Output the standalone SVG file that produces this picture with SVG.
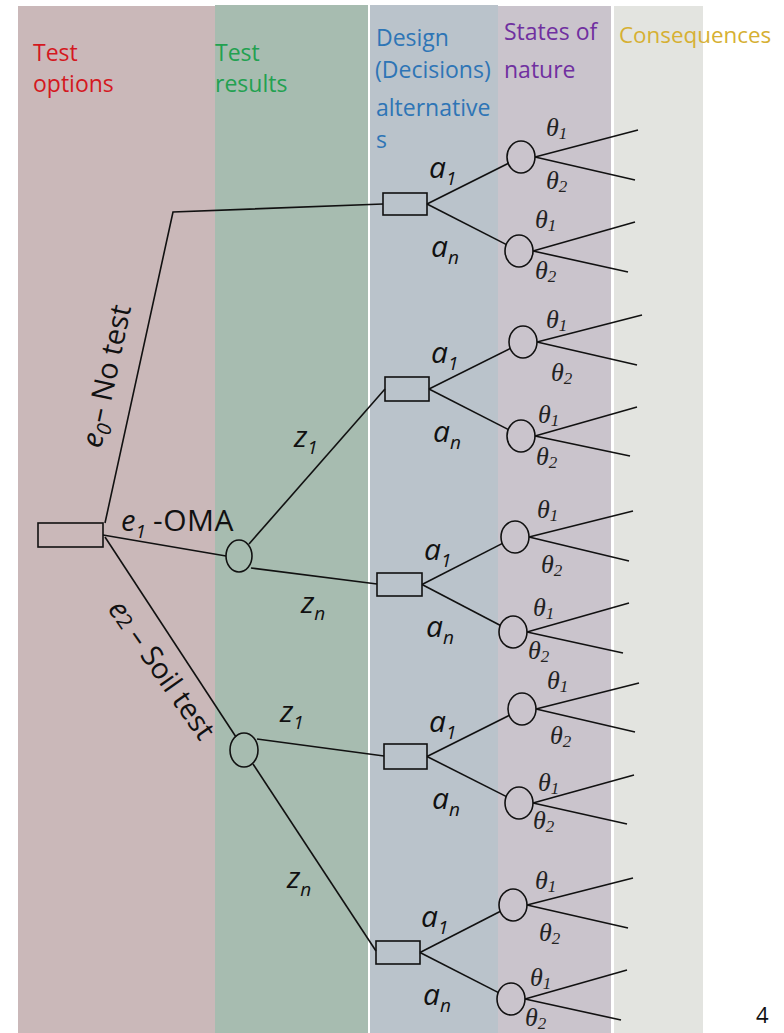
<svg xmlns="http://www.w3.org/2000/svg" width="784" height="1033" viewBox="0 0 784 1033">
<style>
.ln{stroke:#111;stroke-width:1.6;fill:none}
.nd{stroke:#111;stroke-width:1.6;fill:none}
.hd{font-family:"Open Sans","Liberation Sans",sans-serif;font-size:23px}
.lb{font-family:"Open Sans","Liberation Sans",sans-serif;font-style:italic;font-size:30px;fill:#111}
.tx{font-family:"Open Sans","Liberation Sans",sans-serif;font-size:29px;fill:#111}
.th{font-family:"Liberation Serif","DejaVu Serif",serif;font-style:italic;font-size:26px;fill:#222}
.sb{font-size:17px}
.sbl{font-size:19px}
</style>
<rect x="0" y="0" width="784" height="1033" fill="#ffffff"/>
<g id="bands">
<rect x="18" y="6" width="197" height="1027" fill="#cab8b9"/>
<rect x="215" y="5" width="153" height="1028" fill="#a7bcb0"/>
<rect x="370" y="5" width="128" height="1028" fill="#bac3cb"/>
<rect x="498" y="6" width="113" height="1027" fill="#cac4cc"/>
<rect x="614" y="6" width="89" height="1027" fill="#e3e4e0"/>
</g>
<g id="headers" class="hd">
<text x="33" y="61" fill="#d4181f">Test</text>
<text x="33" y="92" fill="#d4181f">options</text>
<text x="215" y="61" fill="#22a150">Test</text>
<text x="215" y="92" fill="#22a150">results</text>
<text x="376" y="46" fill="#2e75b6">Design</text>
<text x="375" y="78" fill="#2e75b6">(Decisions)</text>
<text x="376" y="116" fill="#2e75b6">alternative</text>
<text x="376" y="148" fill="#2e75b6">s</text>
<text x="504" y="40" fill="#7030a0">States of</text>
<text x="504" y="78" fill="#7030a0">nature</text>
<text x="619" y="43" fill="#d6b033" font-size="22.4">Consequences</text>
</g>
<g id="connectors">
<polyline class="ln" points="105,523 173,212 383,204"/>
<line class="ln" x1="103" y1="535" x2="226" y2="556"/>
<line class="ln" x1="105" y1="537" x2="236" y2="737"/>
<line class="ln" x1="249" y1="544" x2="385" y2="389"/>
<line class="ln" x1="251" y1="568" x2="377" y2="584"/>
<line class="ln" x1="257" y1="739" x2="384" y2="756"/>
<line class="ln" x1="253" y1="764" x2="376" y2="951"/>
<line class="ln" x1="427" y1="204" x2="508.5" y2="163.3"/>
<line class="ln" x1="427" y1="204" x2="506.5" y2="244.6"/>
<line class="ln" x1="535" y1="157" x2="638" y2="130"/>
<line class="ln" x1="535" y1="157" x2="635" y2="180"/>
<line class="ln" x1="533" y1="251" x2="635" y2="222"/>
<line class="ln" x1="533" y1="251" x2="628" y2="272"/>
<line class="ln" x1="429" y1="389" x2="510.5" y2="348.3"/>
<line class="ln" x1="429" y1="389" x2="508.5" y2="429.6"/>
<line class="ln" x1="537" y1="342" x2="642" y2="315"/>
<line class="ln" x1="537" y1="342" x2="637" y2="365"/>
<line class="ln" x1="535" y1="436" x2="637" y2="407"/>
<line class="ln" x1="535" y1="436" x2="630" y2="456"/>
<line class="ln" x1="422" y1="584.5" x2="502.5" y2="543.4"/>
<line class="ln" x1="422" y1="584.5" x2="500.5" y2="625.5"/>
<line class="ln" x1="529" y1="537" x2="633" y2="511"/>
<line class="ln" x1="529" y1="537" x2="629" y2="561"/>
<line class="ln" x1="527" y1="632" x2="629" y2="603"/>
<line class="ln" x1="527" y1="632" x2="623" y2="653"/>
<line class="ln" x1="427" y1="756.5" x2="509.5" y2="715.3"/>
<line class="ln" x1="427" y1="756.5" x2="506.5" y2="796.6"/>
<line class="ln" x1="536" y1="709" x2="639" y2="683"/>
<line class="ln" x1="536" y1="709" x2="635" y2="732"/>
<line class="ln" x1="533" y1="803" x2="634" y2="775"/>
<line class="ln" x1="533" y1="803" x2="627" y2="824"/>
<line class="ln" x1="420" y1="952.5" x2="500.5" y2="911.3"/>
<line class="ln" x1="420" y1="952.5" x2="498.5" y2="992.6"/>
<line class="ln" x1="527" y1="905" x2="633" y2="878"/>
<line class="ln" x1="527" y1="905" x2="628" y2="928"/>
<line class="ln" x1="525" y1="999" x2="627" y2="970"/>
<line class="ln" x1="525" y1="999" x2="621" y2="1020"/>
</g>
<g id="nodes">
<g id="test-decision"><rect class="nd" x="38" y="523" width="65" height="24"/></g>
<g id="oma-result"><ellipse class="nd" cx="239" cy="556" rx="13" ry="16"/></g>
<g id="soil-result"><ellipse class="nd" cx="244" cy="750" rx="14" ry="17"/></g>
<g id="design-1"><rect class="nd" x="383" y="193" width="44" height="22"/></g>
<g id="design-2"><rect class="nd" x="385" y="377" width="44" height="24"/></g>
<g id="design-3"><rect class="nd" x="377" y="573" width="45" height="23"/></g>
<g id="design-4"><rect class="nd" x="384" y="744" width="43" height="25"/></g>
<g id="design-5"><rect class="nd" x="376" y="941" width="44" height="23"/></g>
<g id="chance-1a"><ellipse class="nd" cx="521" cy="157" rx="14" ry="16"/></g>
<g id="chance-1b"><ellipse class="nd" cx="519" cy="251" rx="14" ry="16"/></g>
<g id="chance-2a"><ellipse class="nd" cx="523" cy="342" rx="14" ry="16"/></g>
<g id="chance-2b"><ellipse class="nd" cx="521" cy="436" rx="14" ry="16"/></g>
<g id="chance-3a"><ellipse class="nd" cx="515" cy="537" rx="14" ry="16"/></g>
<g id="chance-3b"><ellipse class="nd" cx="513" cy="632" rx="14" ry="16"/></g>
<g id="chance-4a"><ellipse class="nd" cx="522" cy="709" rx="14" ry="16"/></g>
<g id="chance-4b"><ellipse class="nd" cx="519" cy="803" rx="14" ry="16"/></g>
<g id="chance-5a"><ellipse class="nd" cx="513" cy="905" rx="14" ry="16"/></g>
<g id="chance-5b"><ellipse class="nd" cx="511" cy="999" rx="14" ry="16"/></g>
</g>
<g id="labels">
<text class="tx" font-size="31" transform="translate(101,449) rotate(-78)"><tspan font-style="italic">e</tspan><tspan font-style="italic" font-size="20" dy="6">0</tspan><tspan dy="-6">– No test</tspan></text>
<text class="tx" x="121" y="531"><tspan font-style="italic">e</tspan><tspan font-style="italic" font-size="19" dy="7">1</tspan><tspan x="153" dy="-7" font-size="30" letter-spacing="0.5">-OMA</tspan></text>
<text class="tx" transform="translate(107,609) rotate(55)"><tspan font-style="italic">e</tspan><tspan font-size="21">2</tspan> – Soil test</text>
<text class="lb" x="294" y="447">z<tspan class="sbl" dy="7">1</tspan></text>
<text class="lb" x="301" y="613">z<tspan class="sbl" dy="7">n</tspan></text>
<text class="lb" x="280" y="722">z<tspan class="sbl" dy="7">1</tspan></text>
<text class="lb" x="287" y="888">z<tspan class="sbl" dy="8">n</tspan></text>
<text class="lb" x="429" y="178">a<tspan class="sbl" dy="7">1</tspan></text>
<text class="lb" x="431" y="257">a<tspan class="sbl" dy="7">n</tspan></text>
<text class="lb" x="431" y="363">a<tspan class="sbl" dy="7">1</tspan></text>
<text class="lb" x="433" y="442">a<tspan class="sbl" dy="7">n</tspan></text>
<text class="lb" x="424" y="560">a<tspan class="sbl" dy="7">1</tspan></text>
<text class="lb" x="426" y="637">a<tspan class="sbl" dy="7">n</tspan></text>
<text class="lb" x="429" y="732">a<tspan class="sbl" dy="7">1</tspan></text>
<text class="lb" x="432" y="809">a<tspan class="sbl" dy="7">n</tspan></text>
<text class="lb" x="421" y="927">a<tspan class="sbl" dy="7">1</tspan></text>
<text class="lb" x="423" y="1005">a<tspan class="sbl" dy="7">n</tspan></text>
<text class="th" x="546" y="136">θ<tspan class="sb" dy="3">1</tspan></text>
<text class="th" x="546" y="189">θ<tspan class="sb" dy="3">2</tspan></text>
<text class="th" x="535" y="228">θ<tspan class="sb" dy="3">1</tspan></text>
<text class="th" x="535" y="279">θ<tspan class="sb" dy="3">2</tspan></text>
<text class="th" x="546" y="328">θ<tspan class="sb" dy="3">1</tspan></text>
<text class="th" x="551" y="381">θ<tspan class="sb" dy="3">2</tspan></text>
<text class="th" x="538" y="423">θ<tspan class="sb" dy="3">1</tspan></text>
<text class="th" x="536" y="465">θ<tspan class="sb" dy="3">2</tspan></text>
<text class="th" x="537" y="518">θ<tspan class="sb" dy="3">1</tspan></text>
<text class="th" x="541" y="573">θ<tspan class="sb" dy="3">2</tspan></text>
<text class="th" x="533" y="616">θ<tspan class="sb" dy="3">1</tspan></text>
<text class="th" x="528" y="659">θ<tspan class="sb" dy="3">2</tspan></text>
<text class="th" x="547" y="689">θ<tspan class="sb" dy="3">1</tspan></text>
<text class="th" x="550" y="744">θ<tspan class="sb" dy="3">2</tspan></text>
<text class="th" x="538" y="791">θ<tspan class="sb" dy="3">1</tspan></text>
<text class="th" x="533" y="829">θ<tspan class="sb" dy="3">2</tspan></text>
<text class="th" x="535" y="889">θ<tspan class="sb" dy="3">1</tspan></text>
<text class="th" x="539" y="941">θ<tspan class="sb" dy="3">2</tspan></text>
<text class="th" x="530" y="986">θ<tspan class="sb" dy="3">1</tspan></text>
<text class="th" x="525" y="1026">θ<tspan class="sb" dy="3">2</tspan></text>
<text font-family="'Open Sans','Liberation Sans',sans-serif" font-size="22" fill="#111" x="756" y="1023">4</text>
</g>
</svg>
